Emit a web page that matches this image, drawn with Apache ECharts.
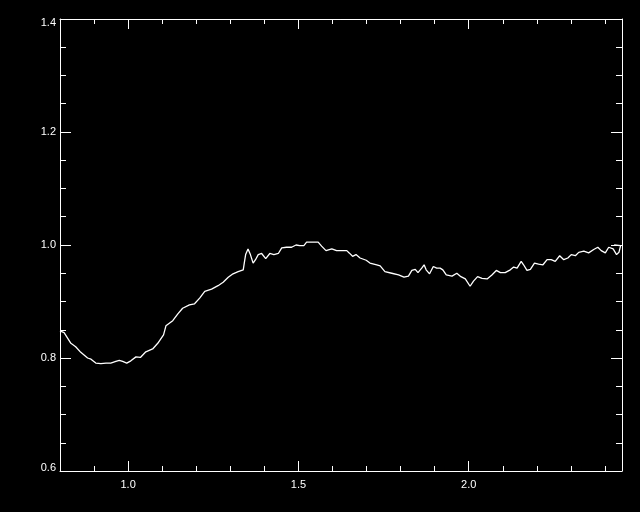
<!DOCTYPE html>
<html>
<head>
<meta charset="utf-8">
<script src="https://cdn.jsdelivr.net/npm/echarts@6/dist/echarts.min.js"></script>
<style>
html,body{margin:0;padding:0;background:#000;}
#chart{width:640px;height:512px;}
</style>
</head>
<body>
<div id="chart"></div>
<script>
// Data (x = wavelength-like value, y = ratio)
var xValues = [
  0.800,0.812,0.832,0.846,0.861,0.881,0.891,0.905,0.920,0.935,0.949,0.964,0.974,0.984,0.996,
  1.008,1.023,1.036,1.052,1.072,1.087,1.104,1.111,1.131,1.146,1.160,1.180,1.195,1.210,
  1.225,1.245,1.264,1.279,1.294,1.308,1.323,1.338,1.341,1.345,1.352,1.359,1.367,1.374,1.382,
  1.392,1.404,1.416,1.428,1.441,1.451,1.465,1.480,1.493,1.504,1.516,1.524,1.544,1.558,1.568,
  1.581,1.598,1.612,1.627,1.642,1.649,1.659,1.669,1.681,1.699,1.710,1.730,1.740,1.754,1.774,
  1.794,1.810,1.823,1.833,1.843,1.851,1.862,1.869,1.875,1.885,1.896,1.906,1.916,1.924,1.934,
  1.951,1.965,1.977,1.990,2.004,2.014,2.026,2.039,2.054,2.068,2.081,2.093,2.107,2.122,2.132,
  2.142,2.154,2.161,2.171,2.181,2.193,2.205,2.218,2.230,2.242,2.254,2.267,2.279,2.291,2.301,
  2.313,2.323,2.338,2.352,2.367,2.379,2.389,2.401,2.411,2.424,2.434,2.441,2.446,2.450,2.427
];
var yValues = [
  0.848,0.845,0.826,0.820,0.810,0.800,0.798,0.791,0.790,0.791,0.791,0.794,0.796,0.794,0.791,
  0.795,0.802,0.801,0.811,0.816,0.826,0.841,0.857,0.866,0.878,0.888,0.894,0.896,0.906,
  0.918,0.922,0.928,0.934,0.943,0.949,0.953,0.956,0.968,0.983,0.993,0.983,0.968,0.974,0.983,
  0.985,0.976,0.985,0.983,0.985,0.995,0.996,0.996,1.000,0.999,0.999,1.005,1.005,1.005,0.998,
  0.990,0.993,0.990,0.990,0.990,0.986,0.980,0.983,0.977,0.973,0.968,0.965,0.963,0.953,0.950,
  0.947,0.943,0.945,0.955,0.957,0.951,0.959,0.965,0.956,0.949,0.962,0.959,0.959,0.956,0.947,
  0.945,0.950,0.944,0.940,0.927,0.936,0.944,0.941,0.940,0.947,0.955,0.951,0.951,0.956,0.961,
  0.959,0.971,0.965,0.955,0.957,0.968,0.966,0.965,0.974,0.974,0.971,0.981,0.974,0.977,0.983,
  0.981,0.987,0.989,0.986,0.992,0.996,0.990,0.986,0.996,0.993,0.983,0.987,0.999,1.000,1.000
];
var xMajorTicks = [1.0, 1.5, 2.0];
var xMinorTicks = [0.9, 1.1, 1.2, 1.3, 1.4, 1.6, 1.7, 1.8, 1.9, 2.1, 2.2, 2.3, 2.4];
var yMajorTicks = [0.6, 0.8, 1.0, 1.2, 1.4];
var yMinorTicks = [0.65, 0.7, 0.75, 0.85, 0.9, 0.95, 1.05, 1.1, 1.15, 1.25, 1.3, 1.35];
var xMin = 0.8, xMax = 2.45, yMin = 0.6, yMax = 1.4;

var points = xValues.map(function (x, i) { return [x, yValues[i]]; });

var white = '#ffffff';
var font = 'Liberation Sans, Arial, sans-serif';

function xAx(pos, ticks, len, withLine, withLabels) {
  return {
    type: 'value', position: pos, min: xMin, max: xMax,
    axisLine: { show: withLine, lineStyle: { color: white, width: 1 } },
    axisTick: { show: true, inside: true, length: len, customValues: ticks, lineStyle: { color: white, width: 1 } },
    axisLabel: withLabels ? {
      show: true, customValues: ticks, color: white, fontSize: 11, fontFamily: font, margin: 8,
      formatter: function (v) { return v.toFixed(1); }
    } : { show: false },
    splitLine: { show: false }
  };
}
function yAx(pos, ticks, len, withLine, withLabels) {
  return {
    type: 'value', position: pos, min: yMin, max: yMax,
    axisLine: { show: withLine, lineStyle: { color: white, width: 1 } },
    axisTick: { show: true, inside: true, length: len, customValues: ticks, lineStyle: { color: white, width: 1 } },
    axisLabel: withLabels ? {
      show: true, customValues: ticks, color: white, fontSize: 11, fontFamily: font, margin: 4,
      formatter: function (v) {
        var s = v.toFixed(1);
        if (Math.abs(v - yMax) < 1e-9) return '{top|' + s + '}';
        if (Math.abs(v - yMin) < 1e-9) return '{bot|' + s + '}';
        return s;
      },
      rich: {
        top: { color: white, fontSize: 11, fontFamily: font, padding: [8, 0, 0, 0] },
        bot: { color: white, fontSize: 11, fontFamily: font, padding: [0, 0, 6, 0] }
      }
    } : { show: false },
    splitLine: { show: false }
  };
}

var chart = echarts.init(document.getElementById('chart'), null, { renderer: 'canvas' });
chart.setOption({
  backgroundColor: '#000000',
  animation: false,
  grid: { left: 60, top: 19, width: 562, height: 452, containLabel: false },
  xAxis: [
    xAx('bottom', xMajorTicks, 10, true, true),
    xAx('bottom', xMinorTicks, 5, false, false),
    xAx('top', xMajorTicks, 10, true, false),
    xAx('top', xMinorTicks, 5, false, false)
  ],
  yAxis: [
    yAx('left', yMajorTicks, 11, true, true),
    yAx('left', yMinorTicks, 6, false, false),
    yAx('right', yMajorTicks, 11, true, false),
    yAx('right', yMinorTicks, 6, false, false)
  ],
  series: [{
    type: 'line',
    xAxisIndex: 0, yAxisIndex: 0,
    data: points,
    showSymbol: false,
    symbol: 'none',
    lineStyle: { color: white, width: 1.3 },
    clip: true
  }]
});
</script>
</body>
</html>
